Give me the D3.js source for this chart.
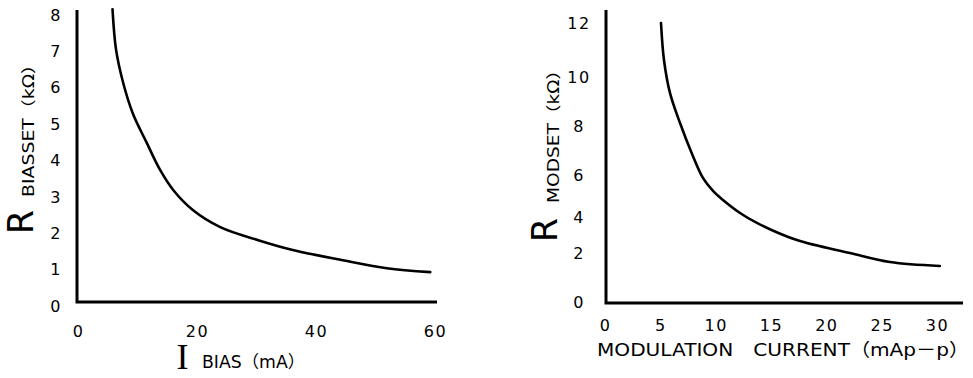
<!DOCTYPE html>
<html>
<head>
<meta charset="utf-8">
<script src="https://cdn.jsdelivr.net/npm/d3@7"></script>
<style>
  body { margin: 0; background: #fff; }
  svg { display: block; }
  .tick text { font-family: "DejaVu Sans", sans-serif; font-size: 16px; fill: #000; letter-spacing: 1.5px; }
  .label { font-family: "DejaVu Sans", "Noto Sans CJK JP", sans-serif; fill: #000; }
</style>
</head>
<body>
<script>
// R_BIASSET vs I_BIAS
let biasCurrent = [5.8, 6.4, 7.6, 9.2, 11.6, 13.8, 16.0, 19.3, 23.9, 30.3, 36.1, 44.5, 51.9, 59.2];
let biasSetR = [8.16, 7.04, 6.13, 5.3, 4.47, 3.74, 3.19, 2.64, 2.17, 1.81, 1.54, 1.26, 1.04, 0.93];
let biasXTicks = [0, 20, 40, 60];
let biasYTicks = [0, 1, 2, 3, 4, 5, 6, 7, 8];

// R_MODSET vs modulation current
let modCurrent = [5.06, 5.33, 5.87, 6.78, 7.83, 8.85, 9.76, 10.66, 12.2, 13.73, 17.34, 22.13, 25.75, 30.26];
let modSetR = [12.0, 10.63, 9.35, 8.12, 6.9, 5.86, 5.24, 4.81, 4.19, 3.67, 2.72, 2.0, 1.63, 1.47];
let modXTicks = [0, 5, 10, 15, 20, 25, 30];
let modYTicks = [0, 2, 4, 6, 8, 10, 12];

let width = 973;
let height = 378;

let svg = d3
  .select("body")
  .append("svg")
  .attr("width", width)
  .attr("height", height);

// draws one panel: axes, tick labels, curve
function drawPanel(opt) {
  let g = svg.append("g");

  // axis lines (left and bottom only)
  g.append("path")
    .attr("d", "M" + opt.axisX + "," + opt.axisTop + "V" + opt.axisY + "H" + opt.axisRight)
    .attr("fill", "none")
    .attr("stroke", "#000")
    .attr("stroke-width", 3);

  // x tick labels
  let xAxis = d3.axisBottom(opt.x).tickValues(opt.xTicks).tickSize(0).tickPadding(0);
  let gx = g.append("g")
    .attr("transform", "translate(0," + opt.xLabelY + ")")
    .call(xAxis);
  gx.select(".domain").remove();

  // y tick labels, centred in a column
  let yAxis = d3.axisLeft(opt.y).tickValues(opt.yTicks).tickSize(0).tickPadding(0);
  let gy = g.append("g")
    .attr("transform", "translate(" + opt.yLabelX + ",0)")
    .call(yAxis);
  gy.select(".domain").remove();
  gy.selectAll("text").attr("text-anchor", "middle").attr("x", 0);
  svg.selectAll(".tick text").attr("font-family", null).attr("font-size", null);

  // curve
  let pts = opt.xs.map((d, i) => [d, opt.ys[i]]);
  let line = d3
    .line()
    .x((d) => opt.x(d[0]))
    .y((d) => opt.y(d[1]))
    .curve(d3.curveCatmullRom.alpha(0.5));
  g.append("path")
    .datum(pts)
    .attr("d", line)
    .attr("fill", "none")
    .attr("stroke", "#000")
    .attr("stroke-width", 2.6)
    .attr("stroke-linecap", "round");

  return g;
}

// left panel
let xBias = d3.scaleLinear().domain([0, 60]).range([78, 435]);
let yBias = d3.scaleLinear().domain([0, 8]).range([306, 15]);

let left = drawPanel({
  x: xBias, y: yBias,
  xs: biasCurrent, ys: biasSetR,
  xTicks: biasXTicks, yTicks: biasYTicks,
  axisX: 77, axisTop: 10, axisY: 302, axisRight: 437,
  xLabelY: 326, yLabelX: 56
});

left.append("text")
  .attr("class", "label")
  .attr("transform", "translate(33,222) rotate(-90)")
  .attr("text-anchor", "middle")
  .style("font-size", "35px")
  .text("R");
left.append("text")
  .attr("class", "label")
  .attr("transform", "translate(34,197) rotate(-90)")
  .attr("textLength", 142)
  .attr("lengthAdjust", "spacingAndGlyphs")
  .style("font-size", "15px")
  .text("BIASSET（kΩ）");

left.append("text")
  .attr("x", 182.5)
  .attr("y", 369)
  .attr("text-anchor", "middle")
  .style("font-family", "'Liberation Serif', serif")
  .style("font-size", "36px")
  .text("I");
left.append("text")
  .attr("class", "label")
  .attr("x", 202)
  .attr("y", 368)
  .attr("textLength", 103)
  .attr("lengthAdjust", "spacingAndGlyphs")
  .style("font-size", "17px")
  .text("BIAS（mA）");

// right panel: the printed value axis is not evenly spaced, so the scale follows its tick marks
let xMod = d3.scaleLinear().domain([0, 30]).range([605, 937]);
let yMod = d3.scaleLinear().domain(modYTicks).range([302, 253, 217, 175, 126, 77, 23]);

let right = drawPanel({
  x: xMod, y: yMod,
  xs: modCurrent, ys: modSetR,
  xTicks: modXTicks, yTicks: modYTicks,
  axisX: 606, axisTop: 10, axisY: 303, axisRight: 963,
  xLabelY: 320, yLabelX: 579
});

right.append("text")
  .attr("class", "label")
  .attr("transform", "translate(557,230) rotate(-90)")
  .attr("text-anchor", "middle")
  .style("font-size", "35px")
  .text("R");
right.append("text")
  .attr("class", "label")
  .attr("transform", "translate(559,203) rotate(-90)")
  .attr("textLength", 142)
  .attr("lengthAdjust", "spacingAndGlyphs")
  .style("font-size", "15px")
  .text("MODSET（kΩ）");

right.append("text")
  .attr("class", "label")
  .attr("x", 597)
  .attr("y", 356)
  .attr("textLength", 372)
  .attr("lengthAdjust", "spacingAndGlyphs")
  .style("font-size", "18px")
  .text("MODULATION　CURRENT（mAp－p）");
</script>
</body>
</html>
